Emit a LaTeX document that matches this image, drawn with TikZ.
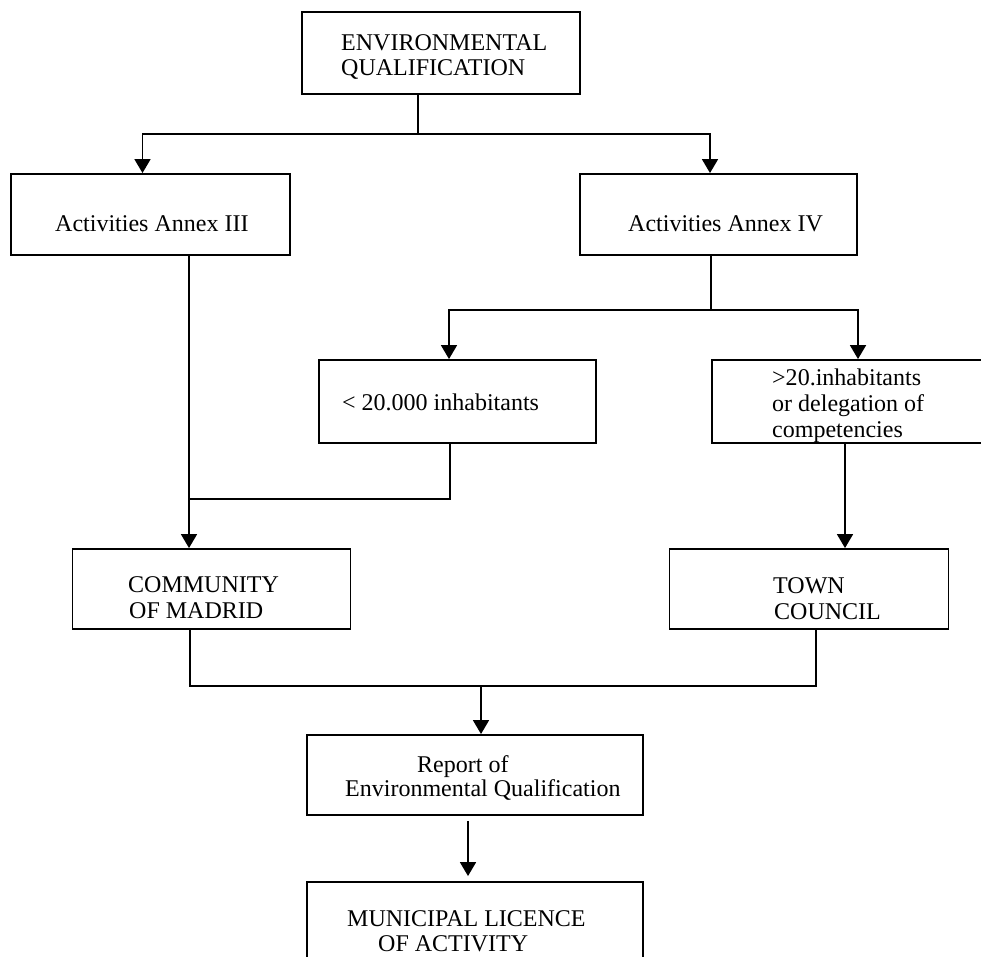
\documentclass[tikz,border=0pt]{standalone}
\usepackage{fontspec}
\setmainfont{Liberation Serif}
\usetikzlibrary{arrows.meta}
\begin{document}
\begin{tikzpicture}[x=1pt,y=-1pt,
  box/.style={draw=black, line width=1.9pt, rectangle, inner sep=0pt},
  txt/.style={anchor=base west, inner sep=0pt, font=\fontsize{24}{27}\selectfont},
  link/.style={draw=black, line width=1.8pt},
  arr/.style={link, -{Triangle[width=16pt,length=14pt]}}]
\useasboundingbox (0,0) rectangle (981,956);
\clip (0,0) rectangle (981,956);

% boxes
\node[box, minimum width=278pt, minimum height=82pt] (top) at (441,53) {};
\node[box, minimum width=279pt, minimum height=81pt] (a3) at (150.3,214.5) {};
\node[box, minimum width=277pt, minimum height=81pt] (a4) at (718.5,214.5) {};
\node[box, minimum width=277pt, minimum height=83pt] (lt) at (457.5,401.5) {};
\node[box, minimum width=278pt, minimum height=83pt] (gt) at (851,401.5) {};
\node[box, minimum width=278pt, minimum height=80pt] (cm) at (211.5,589) {};
\node[box, minimum width=279pt, minimum height=80pt] (tc) at (809,589) {};
\node[box, minimum width=336pt, minimum height=80pt] (rep) at (475,775) {};
\node[box, minimum width=336pt, minimum height=80pt] (mun) at (475,922) {};

% texts
\node[txt] (t1a) at (341,50) {ENVIRONMENTAL};
\node[txt] (t1b) at (341,75) {QUALIFICATION};
\node[txt] (t2) at (55,231) {Activities Annex III};
\node[txt] (t3) at (628,231) {Activities Annex IV};
\node[txt] (t4) at (342,410) {< 20.000 inhabitants};
\node[txt] (t5a) at (772,385) {>20.inhabitants};
\node[txt] (t5b) at (772,411) {or delegation of};
\node[txt] (t5c) at (772,437) {competencies};
\node[txt] (t6a) at (128,592) {COMMUNITY};
\node[txt] (t6b) at (129,618) {OF MADRID};
\node[txt] (t7a) at (773,593) {TOWN};
\node[txt] (t7b) at (774,619) {COUNCIL};
\node[txt] (t8a) at (417,772) {Report of};
\node[txt] (t8b) at (345,796) {Environmental Qualification};
\node[txt] (t9a) at (347,926) {MUNICIPAL LICENCE};
\node[txt] (t9b) at (378,951) {OF ACTIVITY};

% connectors
\coordinate (ja) at (418,134);
\coordinate (jl) at (142.5,134);
\coordinate (jr) at (710,134);
\draw[link] (top.south -| ja) -- (ja);
\draw[arr] (ja) -| (a3.north -| jl);
\draw[arr] (ja) -| (a4.north -| jr);

\coordinate (jb) at (711,310);
\coordinate (jbl) at (449,310);
\coordinate (jbr) at (858,310);
\draw[link] (a4.south -| jb) -- (jb);
\draw[arr] (jb) -| (lt.north -| jbl);
\draw[arr] (jb) -| (gt.north -| jbr);

\coordinate (jc) at (189,499);
\coordinate (jcr) at (450,499);
\draw[arr] (a3.south -| jc) -- (cm.north -| jc);
\draw[link] (lt.south -| jcr) |- (jc);

\coordinate (jd) at (845,500);
\draw[arr] (gt.south -| jd) -- (tc.north -| jd);

\coordinate (je) at (481,686);
\coordinate (jel) at (190,686);
\coordinate (jer) at (816,686);
\draw[link] (cm.south -| jel) -- (jel) -- (jer) -- (tc.south -| jer);
\draw[arr] (je) -- (rep.north -| je);

\coordinate (jf) at (468,850);
\draw[arr, shorten <=5pt, shorten >=5pt] (rep.south -| jf) -- (mun.north -| jf);
\end{tikzpicture}
\end{document}
